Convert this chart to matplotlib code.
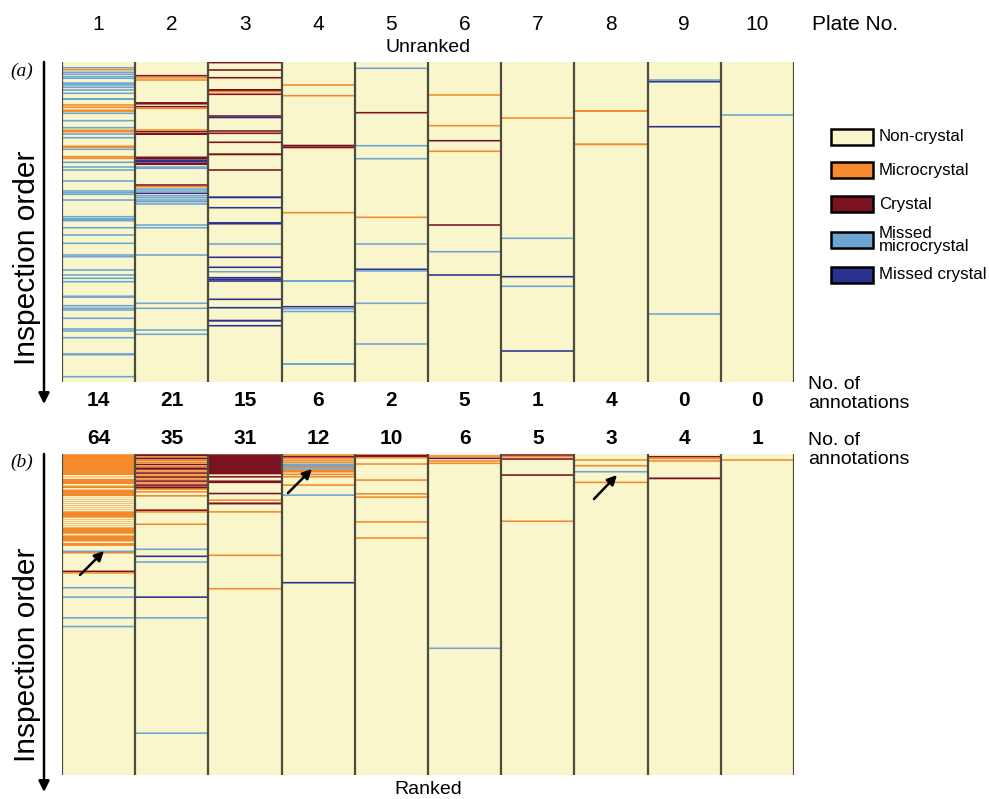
import matplotlib
matplotlib.use("Agg")
import matplotlib.pyplot as plt
from matplotlib import transforms
import numpy as np

# ---------------- data ----------------
plates = list(range(1, 11))
counts_unranked = [14, 21, 15, 6, 2, 5, 1, 4, 0, 0]
counts_ranked = [64, 35, 31, 12, 10, 6, 5, 3, 4, 1]

cat_codes = ["N", "M", "C", "m", "c"]
cat_labels = ["Non-crystal", "Microcrystal", "Crystal", "Missed\nmicrocrystal", "Missed crystal"]
cat_colors = ["#FAF6CC", "#F48A2C", "#7A1222", "#6EA6D3", "#2A3190"]

ORDER_MAX = 320  # inspection order scale (top = first inspected)

# (inspection position, category, band thickness) -- Unranked panel
a1 = [(5.7, "m", 1), (7.7, "M", 1), (10.3, "m", 1), (12.3, "m", 1.5), (14.7, "m", 1), (16.3, "m", 1),
      (21.3, "m", 2), (23, "m", 1.5), (25.3, "m", 1), (28, "m", 1), (31.3, "m", 1), (37, "m", 2),
      (43, "M", 1), (45.3, "M", 1), (48.7, "M", 2.5), (51.3, "m", 1), (58.7, "m", 1.5), (65.7, "m", 1),
      (69, "M", 3), (72, "m", 1), (75.7, "m", 1), (84.7, "M", 2.5), (87.3, "m", 1), (94.7, "M", 1.5),
      (96.3, "M", 1), (100.3, "m", 1), (105, "m", 1.5), (108, "m", 1), (119, "m", 1), (129, "m", 1),
      (130.7, "m", 1), (132.3, "m", 1), (138, "m", 1), (154.7, "m", 1.5), (157, "m", 2), (158.7, "m", 1),
      (165.7, "m", 1), (173, "m", 1), (181.3, "m", 1.5), (193, "m", 1.5), (194.7, "m", 1), (208, "m", 1.5),
      (213, "m", 1), (216.3, "m", 1), (219.7, "m", 1.5), (234.7, "m", 2.5), (243.7, "m", 1), (246.3, "m", 1.5),
      (248, "m", 1), (256.3, "m", 1.5), (267, "m", 1), (269, "m", 1), (275.7, "m", 1.5), (292.3, "m", 2.5),
      (314.7, "m", 1)]
a2 = [(13.7, "C", 1), (15.7, "M", 1), (18, "M", 1.5), (41.3, "C", 2.5), (44.7, "C", 1.5), (46.3, "M", 1),
      (68, "M", 1), (69.7, "C", 1.5), (72, "C", 2), (96, "C", 3), (99, "c", 3), (101.8, "C", 2.5),
      (105, "m", 1), (106.3, "m", 1), (123, "C", 1), (124.7, "M", 1), (127, "m", 1), (129, "m", 1),
      (131.3, "c", 1.5), (133.7, "m", 1), (135.7, "m", 1.5), (138, "m", 1), (139.7, "m", 1), (142, "m", 1),
      (163, "m", 1), (165.7, "m", 1), (193, "m", 1.5), (241.3, "m", 1), (246.3, "m", 1), (268, "m", 1),
      (272.3, "m", 1.5)]
a3 = [(0.6, "C", 1.2), (8, "C", 1), (15.7, "C", 1), (28, "C", 2), (29.7, "M", 1), (32.3, "C", 1),
      (54, "C", 1.5), (55.5, "c", 1.5), (69, "C", 1), (71.3, "C", 1), (80.3, "C", 1), (92.3, "C", 2),
      (108, "C", 1), (135.3, "c", 2), (145.7, "c", 1.5), (161.3, "c", 2.5), (182, "m", 1.5), (195.3, "c", 1.5),
      (205.3, "c", 1), (209.7, "m", 1), (215.7, "c", 1.5), (217.3, "c", 1.5), (219, "c", 1.5), (237.3, "c", 1),
      (245.7, "c", 1.5), (258.7, "c", 2), (263.7, "c", 1.5)]
a4 = [(23, "M", 1), (33.7, "M", 1), (83.7, "C", 2), (85.5, "C", 1), (150.7, "M", 1), (219, "m", 2),
      (244.7, "c", 1.5), (246.7, "m", 1.5), (249.5, "m", 1), (302, "m", 2)]
a5 = [(6.3, "m", 1), (50.7, "C", 1), (83.7, "m", 1), (96.7, "m", 1), (155.3, "M", 1), (182, "m", 1),
      (207.3, "c", 1.5), (209, "m", 1), (241.3, "m", 1), (282, "m", 1)]
a6 = [(33, "M", 1), (63.7, "M", 1), (78.7, "C", 1), (89.3, "M", 1), (163, "C", 1), (189.7, "m", 1),
      (213, "c", 1.2)]
a7 = [(56, "M", 1), (176.3, "m", 1), (214.7, "c", 1.5), (224.3, "m", 1), (289, "c", 1)]
a8 = [(49, "M", 2), (82.3, "M", 2)]
a9 = [(18, "m", 1.5), (19.7, "c", 1), (64.7, "c", 1), (252, "m", 1)]
a10 = [(53, "m", 1)]

# Ranked panel
b1 = [(45.9, "M", 91.4),
      (21.7, "N", 1), (24, "N", 1), (30.7, "N", 1), (34.7, "N", 1), (42.7, "N", 1), (44.3, "N", 1),
      (46.3, "N", 1), (48.3, "N", 1), (50.3, "N", 1), (52.3, "N", 1), (54.3, "N", 1), (56.3, "N", 1),
      (64.3, "N", 1), (66.3, "N", 1), (68.3, "N", 1), (70.3, "N", 1), (72.3, "N", 1), (80.3, "N", 1),
      (88, "N", 1),
      (97, "m", 1), (98.5, "M", 1.2), (117, "C", 1.2), (118.5, "M", 1), (133.3, "m", 1), (142.7, "m", 1),
      (163.3, "m", 1), (172, "m", 1)]
b2 = [(1.2, "C", 2), (3, "M", 1.5), (4.5, "C", 1.5), (6.5, "M", 2), (8.5, "M", 1.5), (10.5, "C", 1.5),
      (12.5, "M", 1.5), (14.5, "C", 2.5), (17, "M", 1.5), (19, "C", 1.5), (21, "M", 1.5), (23, "C", 1.5),
      (25, "M", 1.5), (27, "C", 1.5), (29, "M", 1.5), (31, "C", 1.5), (33.5, "C", 2.5), (35, "M", 1),
      (37.7, "M", 1), (41.7, "M", 1), (56, "C", 1), (57.7, "M", 1), (70, "M", 1.2), (95, "m", 1),
      (102, "c", 1.2), (107.7, "m", 1), (142.7, "c", 1.2), (163.3, "m", 1), (278.3, "m", 1)]
b3 = [(10.3, "C", 20), (22.7, "C", 1.5), (27.7, "C", 2.7), (39.4, "C", 1), (46, "M", 1), (49.3, "C", 2),
      (57.7, "M", 1), (101, "M", 1), (134.3, "M", 1)]
b4 = [(1, "M", 1.2), (2.7, "C", 1), (4.3, "M", 1.2), (6.3, "M", 1.2), (8.3, "M", 1.2), (10.3, "m", 1),
      (12, "m", 2), (13.7, "M", 1.2), (15, "m", 1), (16.3, "M", 1), (17.7, "M", 1), (20.3, "M", 1),
      (22.7, "M", 1), (31, "M", 1), (41, "m", 1), (128.3, "c", 1.2)]
b5 = [(1.8, "C", 2.5), (3.7, "M", 1), (10, "M", 1), (26, "M", 1), (39.7, "M", 1), (43, "M", 1),
      (67.7, "M", 1.2), (83.7, "M", 1.2)]
b6 = [(2, "M", 1.2), (4.3, "C", 1.2), (7, "M", 1), (9.3, "M", 1), (193.7, "m", 1)]
b7 = [(1, "C", 1.2), (2.7, "M", 1), (5, "C", 1), (21, "C", 1.2), (67, "M", 1.2)]
b8 = [(6, "M", 1.2), (11.7, "M", 1), (17.7, "m", 1), (28.3, "M", 1.2)]
b9 = [(2.7, "C", 1.2), (4.5, "M", 1), (7, "M", 1), (24.3, "C", 1.8)]
b10 = [(6, "M", 1.5)]

unranked = [a1, a2, a3, a4, a5, a6, a7, a8, a9, a10]
ranked = [b1, b2, b3, b4, b5, b6, b7, b8, b9, b10]

# ---------------- drawing ----------------
W, H = 989, 799
fig = plt.figure(figsize=(W / 100, H / 100), dpi=100)
colmap = dict(zip(cat_codes, cat_colors))
SANS = "Liberation Sans"
MIN_BAND = 1.6  # minimum drawn band thickness so thin lines stay visible


def fig_rect(x0, y0, x1, y1):
    return [x0 / W, 1 - y1 / H, (x1 - x0) / W, (y1 - y0) / H]


def draw_panel(ax, marks):
    ax.bar(plates, [ORDER_MAX] * len(plates), bottom=0, width=1.0, color=colmap["N"],
           edgecolor="none", linewidth=0)
    for p, lst in zip(plates, marks):
        # wide bands first, thin lines afterwards so they stay on top
        for pos, code, w in sorted(lst, key=lambda t: -t[2]):
            h = max(w, MIN_BAND)
            bars = ax.bar(p, h, bottom=pos - h / 2, width=1.0, color=colmap[code],
                          edgecolor="none", linewidth=0)
            for b in bars:
                b.set_snap(False)
    ax.vlines(np.arange(0.5, len(plates) + 1), 0, ORDER_MAX, color="#4b4b3e", lw=1.6)
    ax.set_xlim(0.5, len(plates) + 0.5)
    ax.set_ylim(ORDER_MAX, 0)
    ax.axis("off")


ax_a = fig.add_axes(fig_rect(62, 62, 794, 382))
ax_b = fig.add_axes(fig_rect(62, 454, 794, 775))
draw_panel(ax_a, unranked)
draw_panel(ax_b, ranked)

ov = fig.add_axes([0, 0, 1, 1], zorder=5)
ov.set_xlim(0, W)
ov.set_ylim(H, 0)
ov.axis("off")
ov.patch.set_alpha(0)

tr_a = transforms.blended_transform_factory(ax_a.transData, ov.transData)

# plate numbers and counts
for p, na, nb in zip(plates, counts_unranked, counts_ranked):
    ov.text(p, 25, str(p), transform=tr_a, ha="center", va="center", fontsize=15, family=SANS)
    ov.text(p, 401, str(na), transform=tr_a, ha="center", va="center", fontsize=15, family=SANS,
            fontweight="bold")
    ov.text(p, 438, str(nb), transform=tr_a, ha="center", va="center", fontsize=15, family=SANS,
            fontweight="bold")
ov.text(812, 25, "Plate No.", ha="left", va="center", fontsize=15, family=SANS)
ov.text(428, 48, "Unranked", ha="center", va="center", fontsize=14, family=SANS)
ov.text(428, 790, "Ranked", ha="center", va="center", fontsize=14, family=SANS)
ov.text(808, 394, "No. of\nannotations", ha="left", va="center", fontsize=14, family=SANS,
        linespacing=1.2)
ov.text(808, 450, "No. of\nannotations", ha="left", va="center", fontsize=14, family=SANS,
        linespacing=1.2)
ov.text(10, 71, "(a)", ha="left", va="center", fontsize=14, family="Liberation Serif", style="italic")
ov.text(10, 462, "(b)", ha="left", va="center", fontsize=14, family="Liberation Serif", style="italic")

# inspection-order axes
for y0, y1, yc in [(62, 404, 258), (454, 792, 655)]:
    ov.annotate("", xy=(44, y1), xytext=(44, y0),
                arrowprops=dict(arrowstyle="-|>", color="black", lw=1.8, mutation_scale=16,
                                shrinkA=0, shrinkB=0))
    ov.text(27, yc, "Inspection order", rotation=90, ha="center", va="center", fontsize=21.5,
            family=SANS)

# small arrows in ranked panel
for (x0, y0, x1, y1) in [(80, 575, 104, 551), (288, 493, 312, 469), (594, 499, 617, 475)]:
    ov.annotate("", xy=(x1, y1), xytext=(x0, y0),
                arrowprops=dict(arrowstyle="-|>", color="black", lw=1.8, mutation_scale=14,
                                shrinkA=0, shrinkB=0))

# legend
leg_y = [137, 170, 204, 240, 275]
for code, lab, col, yy in zip(cat_codes, cat_labels, cat_colors, leg_y):
    ov.add_patch(plt.Rectangle((831, yy - 8), 42, 16, facecolor=col, edgecolor="black", lw=1.8))
    ov.text(879, yy, lab, ha="left", va="center", fontsize=12.2, family=SANS, linespacing=0.9)

fig.savefig("out.png", dpi=100)
